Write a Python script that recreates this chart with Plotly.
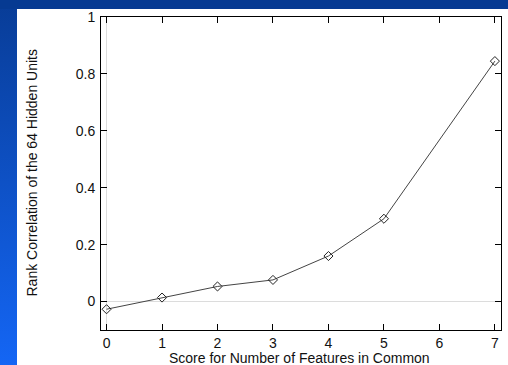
import plotly.graph_objects as go

# Data
x_scores = [0, 1, 2, 3, 4, 5, 7]
rank_corr = [-0.027, 0.014, 0.053, 0.076, 0.160, 0.291, 0.845]
x_ticks = [0, 1, 2, 3, 4, 5, 6, 7]
y_ticks = [0, 0.2, 0.4, 0.6, 0.8, 1]
y_tick_labels = ["0", "0.2", "0.4", "0.6", "0.8", "1"]
x_title = "Score for Number of Features in Common"
y_title = "Rank Correlation of the 64 Hidden Units"

W, H = 508, 365
L, R, T, B = 101, 7, 17, 35

fig = go.Figure()

# slide background bands on a full-figure pixel axis
fig.add_trace(go.Scatter(
    x=[-2, 17, 17, -2, -2], y=[-2, -2, H + 2, H + 2, -2], mode="lines",
    line=dict(width=0), fill="toself",
    fillgradient=dict(type="vertical",
                      colorscale=[[0, "rgb(20,102,245)"], [1, "rgb(8,60,150)"]]),
    xaxis="x2", yaxis="y2", showlegend=False, hoverinfo="skip",
))
fig.add_trace(go.Scatter(
    x=[-2, W + 2, W + 2, -2, -2], y=[-2, -2, 9, 9, -2], mode="lines",
    line=dict(width=0), fill="toself", fillcolor="rgb(6,58,146)",
    xaxis="x2", yaxis="y2", showlegend=False, hoverinfo="skip",
))

fig.add_trace(go.Scatter(
    x=x_scores, y=rank_corr, mode="lines+markers",
    line=dict(color="#444444", width=1),
    marker=dict(symbol="diamond-open", size=7, color="#222222", line=dict(width=1)),
    showlegend=False, hoverinfo="skip",
))

fig.update_layout(
    width=W, height=H,
    margin=dict(l=0, r=0, t=0, b=0, pad=0),
    paper_bgcolor="white", plot_bgcolor="rgba(0,0,0,0)",
    font=dict(family="Liberation Sans, Arial, sans-serif", size=14, color="#111111"),
    xaxis2=dict(domain=[0, 1], range=[0, W], visible=False, anchor="y2"),
    yaxis2=dict(domain=[0, 1], range=[H, 0], visible=False, anchor="x2"),
    xaxis=dict(
        domain=[L / W, (W - R) / W], anchor="y",
        range=[-0.1, 7.11], tickvals=x_ticks, ticks="inside", ticklen=6,
        tickcolor="black", showline=True, linecolor="black", linewidth=1,
        mirror="allticks", showgrid=False, zeroline=True, zerolinecolor="#dcdcdc",
        zerolinewidth=1, ticklabelstandoff=0, automargin=False,
    ),
    yaxis=dict(
        domain=[B / H, (H - T) / H], anchor="x",
        range=[-0.1, 1.0], tickvals=y_ticks, ticktext=y_tick_labels, ticks="inside",
        ticklen=6, tickcolor="black", showline=True, linecolor="black", linewidth=1,
        mirror="allticks", showgrid=False, zeroline=True, zerolinecolor="#dcdcdc",
        zerolinewidth=1, ticklabelstandoff=2, automargin=False,
    ),
    annotations=[
        dict(text=x_title, xref="paper", yref="paper", x=299.5 / W, y=1 - 358 / H,
             xanchor="center", yanchor="middle", showarrow=False,
             font=dict(size=14)),
        dict(text=y_title, xref="paper", yref="paper", x=31 / W, y=1 - 173.5 / H,
             xanchor="center", yanchor="middle", showarrow=False, textangle=-90,
             font=dict(size=14)),
    ],
)

fig.write_html("out.html")
